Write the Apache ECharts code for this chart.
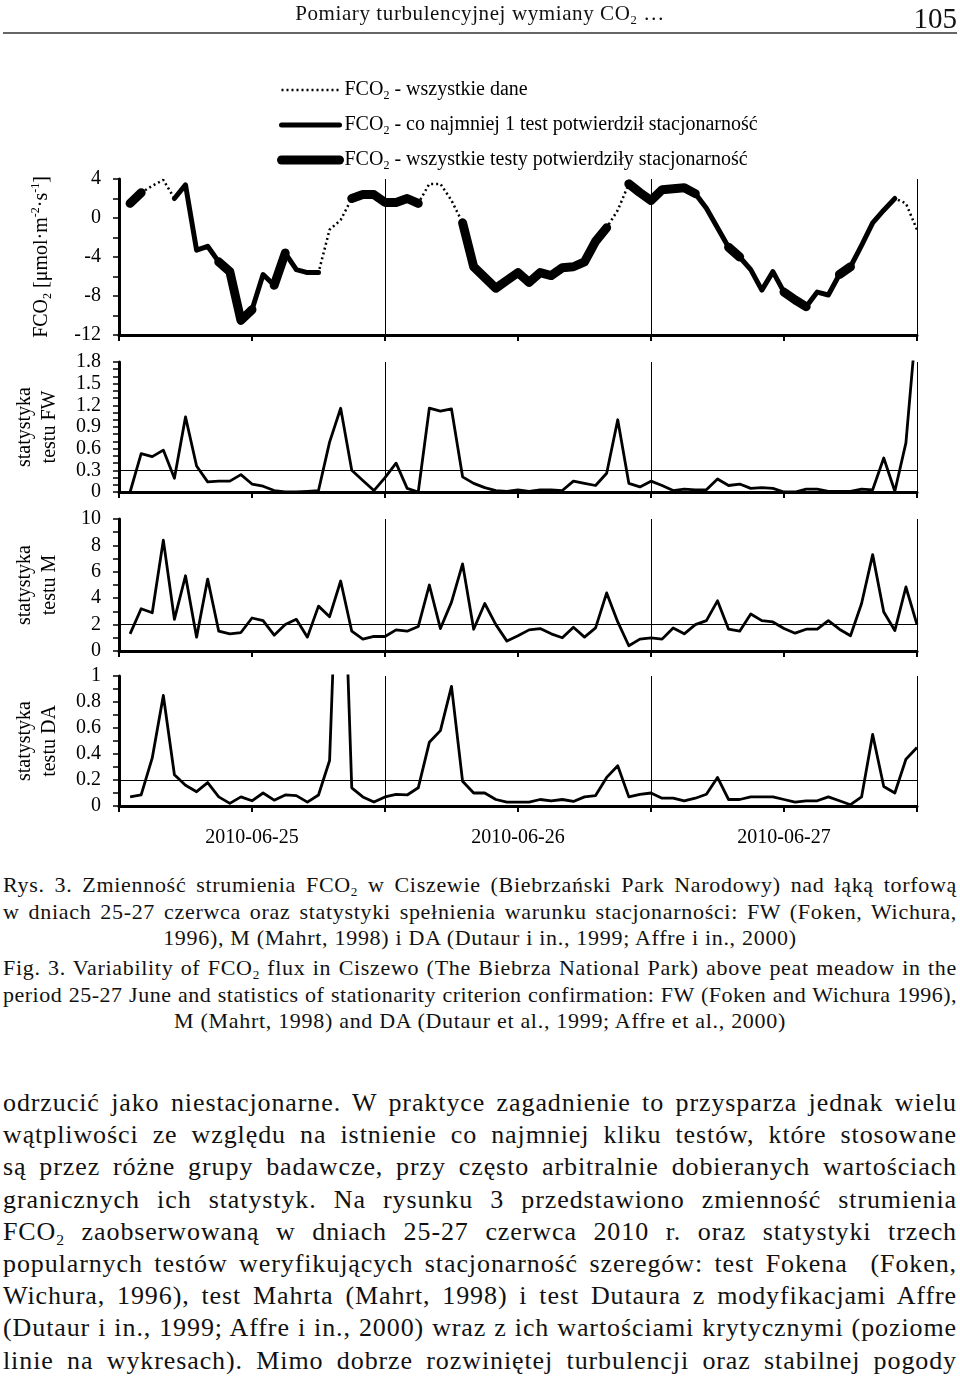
<!DOCTYPE html>
<html><head><meta charset="utf-8">
<script src="https://cdn.jsdelivr.net/npm/echarts@6/dist/echarts.min.js"></script>
<style>
html,body{margin:0;padding:0;background:#fff;}
body{width:960px;height:1378px;position:relative;overflow:hidden;font-family:'Liberation Serif','Times New Roman',serif;color:#111;}
#chart{position:absolute;left:0;top:0;width:960px;height:870px;}
.abs{position:absolute;}
.j{text-align:justify;text-align-last:justify;}
.c{text-align:center;text-align-last:center;}
sub{font-size:0.6em;vertical-align:-0.3em;line-height:0;}
#cap1,#cap2{left:3px;width:954px;font-size:22px;line-height:26.5px;letter-spacing:0.7px;}
#cap1 div,#cap2 div{height:26.5px;}
#body{left:3px;width:954px;font-size:26px;line-height:32.2px;letter-spacing:0.9px;}
#body div{height:32.2px;}
</style></head>
<body>
<div id="chart"></div>
<div class="abs" style="left:0;width:960px;top:0;font-size:21px;line-height:26px;text-align:center;letter-spacing:0.6px;">Pomiary turbulencyjnej wymiany CO<sub>2</sub> …</div>
<div class="abs" style="right:3px;top:2px;font-size:29px;line-height:32px;">105</div>
<div class="abs" style="left:3px;top:32px;width:954px;height:2px;background:#666;"></div>

<div id="cap1" class="abs" style="top:872px;">
<div class="j">Rys. 3. Zmienność strumienia FCO<sub>2</sub> w Ciszewie (Biebrzański Park Narodowy) nad łąką torfową</div>
<div class="j">w dniach 25-27 czerwca oraz statystyki spełnienia warunku stacjonarności: FW (Foken, Wichura,</div>
<div class="c">1996), M (Mahrt, 1998) i DA (Dutaur i in., 1999; Affre i in., 2000)</div>
</div>
<div id="cap2" class="abs" style="top:955px;">
<div class="j">Fig. 3. Variability of FCO<sub>2</sub> flux in Ciszewo (The Biebrza National Park) above peat meadow in the</div>
<div class="j">period 25-27 June and statistics of stationarity criterion confirmation: FW (Foken and Wichura 1996),</div>
<div class="c">M (Mahrt, 1998) and DA (Dutaur et al., 1999; Affre et al., 2000)</div>
</div>
<div id="body" class="abs" style="top:1087px;">
<div class="j">odrzucić jako niestacjonarne. W praktyce zagadnienie to przysparza jednak wielu</div>
<div class="j">wątpliwości ze względu na istnienie co najmniej kliku testów, które stosowane</div>
<div class="j">są przez różne grupy badawcze, przy często arbitralnie dobieranych wartościach</div>
<div class="j">granicznych ich statystyk. Na rysunku 3 przedstawiono zmienność strumienia</div>
<div class="j">FCO<sub>2</sub> zaobserwowaną w dniach 25-27 czerwca 2010 r. oraz statystyki trzech</div>
<div class="j">popularnych testów weryfikujących stacjonarność szeregów: test Fokena &nbsp;(Foken,</div>
<div class="j">Wichura, 1996), test Mahrta (Mahrt, 1998) i test Dutaura z modyfikacjami Affre</div>
<div class="j">(Dutaur i in., 1999; Affre i in., 2000) wraz z ich wartościami krytycznymi (poziome</div>
<div class="j">linie na wykresach). Mimo dobrze rozwiniętej turbulencji oraz stabilnej pogody</div>
</div>

<script>
// ---- data (hour of the 3-day period, 25-27 June 2010) ----
const hours = [1,2,3,4,5,6,7,8,9,10,11,12,13,14,15,16,17,18,19,20,21,22,23,24,
  25,26,27,28,29,30,31,32,33,34,35,36,37,38,39,40,41,42,43,44,45,46,47,48,
  49,50,51,52,53,54,55,56,57,58,59,60,61,62,63,64,65,66,67,68,69,70,71,72];
const fco2 = [1.5,2.6,3.3,3.9,2.0,3.4,-3.3,-2.9,-4.5,-5.5,-10.5,-9.4,-5.8,-6.9,-3.6,-5.3,-5.6,-5.6,-1.2,-0.2,
  2.0,2.4,2.4,1.6,1.6,2.0,1.5,3.5,3.5,1.8,-0.5,-5.0,-6.1,-7.2,-6.4,-5.6,-6.6,-5.6,-5.9,-5.1,
  -5.0,-4.5,-2.4,-1.0,0.8,3.5,2.6,1.8,2.9,3.0,3.1,2.5,1.0,-1.0,-3.0,-4.0,-5.3,-7.4,-5.5,-7.6,
  -8.4,-9.1,-7.6,-7.9,-5.8,-5.0,-2.8,-0.5,0.8,2.0,1.5,-1.2];
// 0 = no test confirmed stationarity, 1 = at least one test, 2 = all tests
const status = [2,2,0,0,1,1,1,1,2,2, 2,2,1,2,2,1,1,1,0,0, 2,2,2,2,2,2,2,0,0,0,
  2,2,2,2,2,2,2,2,2,2, 2,2,2,2,0,2,2,2,2,2, 2,2,1,1,2,2,1,1,1,2, 2,2,1,1,2,2,1,1,1,1, 0,0];
const fw = [0,0.53,0.49,0.58,0.19,1.04,0.36,0.14,0.15,0.15,0.24,0.11,0.08,0.02,0,0,0.01,0.02,0.69,1.16,
  0.30,0.16,0.02,0.2,0.40,0.05,0,1.16,1.12,1.15,0.21,0.12,0.06,0.02,0.01,0.03,0.01,0.03,0.03,0.02,
  0.15,0.12,0.09,0.26,1.0,0.12,0.07,0.15,0.09,0.02,0.04,0.03,0.03,0.18,0.09,0.11,0.05,0.06,0.05,0,
  0,0.04,0.04,0.01,0.01,0.01,0.04,0.03,0.47,0.01,0.68,2.45];
const mStat = [1.3,3.2,2.9,8.4,2.4,5.7,1.05,5.45,1.5,1.3,1.4,2.5,2.3,1.2,2.0,2.4,1.05,3.4,2.6,5.3,
  1.5,0.9,1.1,1.1,1.6,1.5,1.85,5.0,1.7,3.7,6.6,1.65,3.6,2.0,0.75,1.15,1.6,1.7,1.3,1.0,
  1.8,1.05,1.75,4.4,2.2,0.4,0.9,1.0,0.9,1.75,1.3,2.0,2.3,3.8,1.65,1.5,2.8,2.3,2.2,1.7,
  1.35,1.65,1.65,2.3,1.65,1.15,3.6,7.3,2.95,1.55,4.85,2.0];
const da = [0.07,0.085,0.37,0.85,0.24,0.16,0.11,0.18,0.07,0.02,0.07,0.04,0.10,0.045,0.085,0.08,0.03,0.085,0.35,2.7,
  0.14,0.07,0.03,0.07,0.09,0.085,0.14,0.49,0.58,0.92,0.19,0.10,0.10,0.05,0.03,0.03,0.03,0.05,0.04,0.05,
  0.035,0.07,0.08,0.22,0.31,0.07,0.09,0.10,0.06,0.06,0.04,0.06,0.09,0.22,0.05,0.05,0.07,0.07,0.07,0.05,
  0.03,0.04,0.04,0.07,0.04,0.01,0.07,0.55,0.15,0.10,0.36,0.45];
const thrFW = 0.3, thrM = 2, thrDA = 0.2;
const dayBoundaries = [24, 48, 72];
const dayLabels = ['2010-06-25', '2010-06-26', '2010-06-27'];
const legendNames = ['FCO2 - wszystkie dane', 'FCO2 - co najmniej 1 test potwierdził stacjonarność', 'FCO2 - wszystkie testy potwierdziły stacjonarność'];

// ---- chart ----
const FONT = "'Liberation Serif','Times New Roman',serif";
const chart = echarts.init(document.getElementById('chart'), null, {renderer: 'canvas'});
const pair = arr => hours.map((h, i) => [h, arr[i]]);
const gridDefs = [
  {left: 119, top: 179, width: 798, height: 156},
  {left: 119, top: 362, width: 798, height: 130},
  {left: 119, top: 519, width: 798, height: 132},
  {left: 119, top: 676, width: 798, height: 130}
];
const rich = {
  a: {fontFamily: FONT, fontSize: 20, color: '#000', lineHeight: 24},
  s: {fontFamily: FONT, fontSize: 12, color: '#000', lineHeight: 12, verticalAlign: 'bottom'},
  p: {fontFamily: FONT, fontSize: 12, color: '#000', lineHeight: 12, verticalAlign: 'top'}
};
const xAxes = gridDefs.map((g, i) => ({
  type: 'value', gridIndex: i, min: 0, max: 72, interval: 12,
  axisLine: {show: true, onZero: false, lineStyle: {color: '#000', width: 3}},
  axisTick: {show: true, inside: false, length: 6, lineStyle: {color: '#000', width: 2}},
  axisLabel: {show: i === 3, margin: 22, fontFamily: FONT, fontSize: 20, color: '#000',
    formatter: v => (v % 24 === 12 ? dayLabels[(v - 12) / 24] : '')},
  splitLine: {show: false}
}));
function yAx(i, min, max, interval, minorSplit, name, gap, fmt) {
  return {
    type: 'value', gridIndex: i, min, max, interval,
    axisLine: {show: true, onZero: false, lineStyle: {color: '#000', width: 3}},
    axisTick: {show: true, length: 6, lineStyle: {color: '#000', width: 1.5}},
    minorTick: {show: true, splitNumber: minorSplit, length: 6, lineStyle: {color: '#000', width: 1.5}},
    axisLabel: {fontFamily: FONT, fontSize: 20, color: '#000', margin: 18, formatter: fmt},
    splitLine: {show: false},
    name, nameLocation: 'middle', nameRotate: 90, nameGap: gap,
    nameTextStyle: {fontFamily: FONT, fontSize: 20, color: '#000', lineHeight: 25, rich}
  };
}
const f1 = v => String(+v.toFixed(1));
const yAxes = [
  yAx(0, -12, 4, 4, 2, '{a|FCO}{s|2}{a| [μmol·m}{p|-2}{a|·s}{p|-1}{a|]}', 65, v => String(v)),
  yAx(1, 0, 1.8, 0.3, 3, 'statystyka\ntestu FW', 57, f1),
  yAx(2, 0, 10, 2, 2, 'statystyka\ntestu M', 57, v => String(v)),
  yAx(3, 0, 1, 0.2, 2, 'statystyka\ntestu DA', 57, f1)
];
const mlBase = {silent: true, symbol: ['none', 'none'], label: {show: false},
  lineStyle: {color: '#000', width: 1, type: 'solid'}, emphasis: {disabled: true}, animation: false};
const vLines = dayBoundaries.map(d => ({xAxis: d}));
function statLine(i, arr, thr) {
  return {
    type: 'line', xAxisIndex: i, yAxisIndex: i, data: pair(arr), symbol: 'none', clip: true,
    lineStyle: {color: '#000', width: 2.8, join: 'round'},
    emphasis: {disabled: true},
    markLine: Object.assign({}, mlBase, {data: vLines.concat([{yAxis: thr}])})
  };
}
const hiddenDot = {color: 'rgba(0,0,0,0)', opacity: 0, borderWidth: 0};
const option = {
  animation: false,
  backgroundColor: '#fff',
  color: ['#000'],
  grid: gridDefs.map(g => Object.assign({containLabel: false}, g)),
  xAxis: xAxes,
  yAxis: yAxes,
  legend: {
    left: 272, top: 75, orient: 'vertical', itemWidth: 58, itemHeight: 20, itemGap: 13,
    selectedMode: false,
    data: [
      {name: legendNames[0], itemStyle: hiddenDot, lineStyle: {width: 2.5, type: [2, 3], color: '#000'}},
      {name: legendNames[1], itemStyle: hiddenDot, lineStyle: {width: 5, type: 'solid', color: '#000', cap: 'round'}},
      {name: legendNames[2], itemStyle: hiddenDot, lineStyle: {width: 9, type: 'solid', color: '#000', cap: 'round'}}
    ],
    formatter: name => '{a|FCO}{s|2}{a|' + name.slice(4) + '}',
    textStyle: {fontFamily: FONT, fontSize: 20, color: '#000', rich}
  },
  series: [
    {
      name: legendNames[0], type: 'line', xAxisIndex: 0, yAxisIndex: 0, data: pair(fco2), symbol: 'none',
      itemStyle: {color: '#000'},
      lineStyle: {color: '#000', width: 2.5, type: [2, 3]}, emphasis: {disabled: true},
      markLine: Object.assign({}, mlBase, {data: vLines})
    },
    {
      name: legendNames[1], type: 'line', xAxisIndex: 0, yAxisIndex: 0, symbol: 'none',
      itemStyle: {color: '#000'},
      data: hours.map((h, i) => [h, status[i] >= 1 ? fco2[i] : null]),
      lineStyle: {color: '#000', width: 5, join: 'round', cap: 'round'}, emphasis: {disabled: true}
    },
    {
      name: legendNames[2], type: 'line', xAxisIndex: 0, yAxisIndex: 0, symbol: 'none',
      itemStyle: {color: '#000'},
      data: hours.map((h, i) => [h, status[i] === 2 ? fco2[i] : null]),
      lineStyle: {color: '#000', width: 9, join: 'round', cap: 'round'}, emphasis: {disabled: true}
    },
    statLine(1, fw, thrFW),
    statLine(2, mStat, thrM),
    statLine(3, da, thrDA)
  ]
};
chart.setOption(option);

// keep each typeset line on one row
document.querySelectorAll('.j, .c').forEach(el => {
  const cs = getComputedStyle(el);
  const lh = parseFloat(cs.lineHeight);
  let ls = parseFloat(cs.letterSpacing) || 0;
  el.style.height = 'auto';
  while (el.offsetHeight > lh * 1.4 && ls > -3) { ls -= 0.1; el.style.letterSpacing = ls + 'px'; }
  el.style.height = lh + 'px';
});
</script>
</body></html>
